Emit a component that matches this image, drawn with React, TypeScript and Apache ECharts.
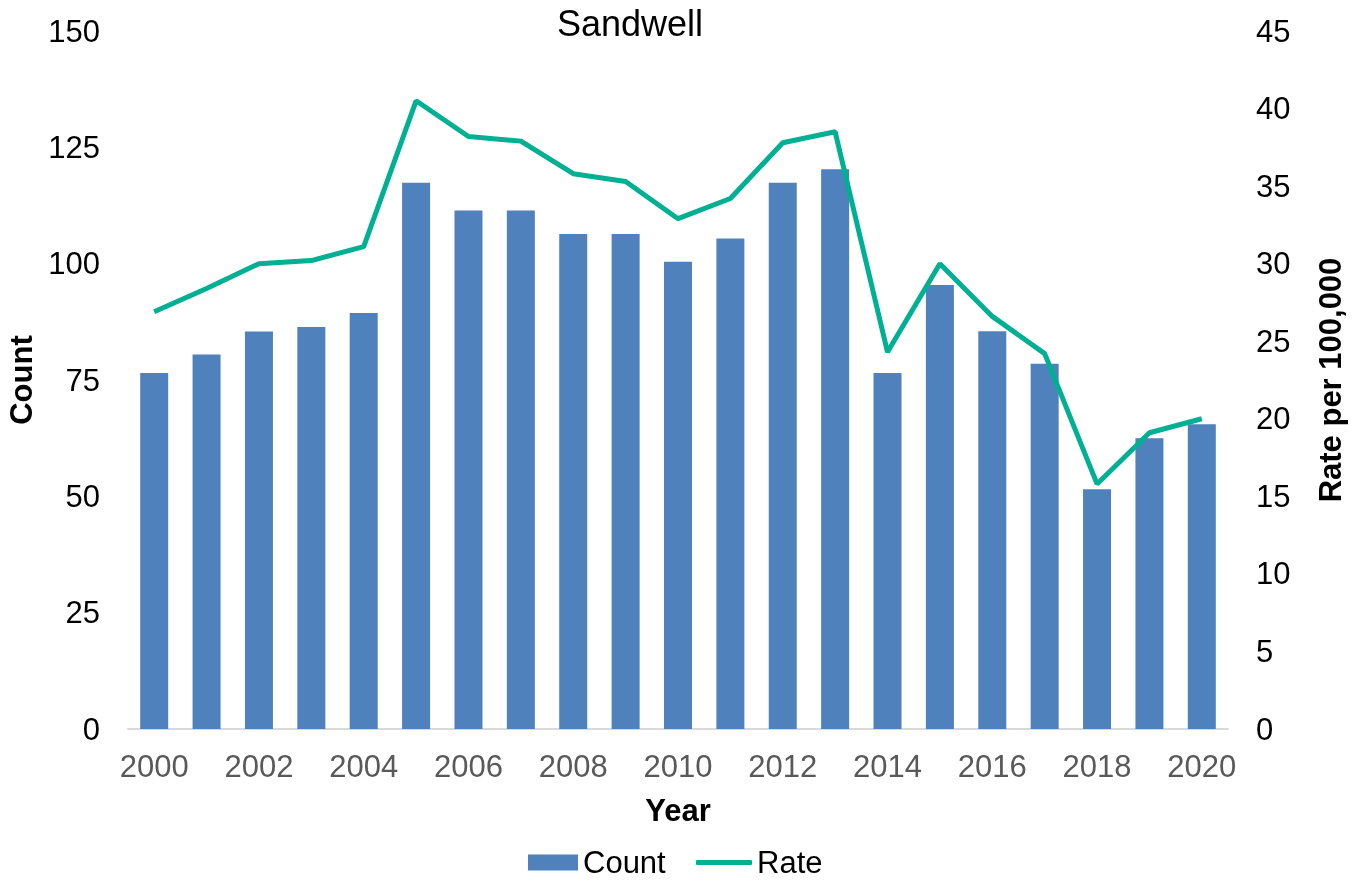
import React, { useEffect, useRef } from "react";
import * as echarts from "echarts";

const years = [
  "2000", "2001", "2002", "2003", "2004", "2005", "2006", "2007", "2008", "2009", "2010",
  "2011", "2012", "2013", "2014", "2015", "2016", "2017", "2018", "2019", "2020",
];
const counts = [
  76.5, 80.5, 85.4, 86.4, 89.4, 117.4, 111.4, 111.4, 106.4, 106.4, 100.4,
  105.4, 117.4, 120.3, 76.5, 95.4, 85.5, 78.5, 51.5, 62.5, 65.5,
];
const rates = [
  26.9, 28.4, 30.0, 30.2, 31.1, 40.5, 38.2, 37.9, 35.8, 35.3, 32.9,
  34.2, 37.8, 38.5, 24.3, 30.0, 26.6, 24.2, 15.8, 19.1, 20.0,
];

const FONT = "Liberation Sans, Arial, sans-serif";
const BAR_COLOR = "#4f81bd";
const LINE_COLOR = "#00b093";

export default function App() {
  const ref = useRef<HTMLDivElement>(null);

  useEffect(() => {
    if (!ref.current) return;
    const chart = echarts.init(ref.current, undefined, { renderer: "svg" });
    chart.setOption({
      animation: false,
      textStyle: { fontFamily: FONT },
      title: {
        text: "Sandwell",
        left: 630,
        top: 5,
        padding: 0,
        textAlign: "center",
        textStyle: { fontFamily: FONT, fontSize: 36, fontWeight: "normal", color: "#000" },
      },
      legend: [
        {
          left: 528,
          top: 847,
          padding: 0,
          itemWidth: 50,
          itemHeight: 16,
          textStyle: { fontFamily: FONT, fontSize: 31, color: "#000" },
          data: [{ name: "Count", icon: "rect" }],
        },
        {
          left: 696,
          top: 847,
          padding: 0,
          itemWidth: 56,
          itemHeight: 5,
          textStyle: { fontFamily: FONT, fontSize: 31, color: "#000" },
          data: [{ name: "Rate", icon: "roundRect" }],
        },
      ],
      grid: {
        left: 128,
        right: 137,
        top: 31,
        bottom: 152,
        containLabel: false,
        outerBoundsMode: "none",
      },
      xAxis: {
        type: "category",
        data: years,
        name: "Year",
        nameLocation: "middle",
        nameGap: 66,
        nameTextStyle: { fontFamily: FONT, fontSize: 31, fontWeight: "bold", color: "#000" },
        axisLine: { lineStyle: { color: "#d9d9d9", width: 2 } },
        axisTick: { show: false },
        axisLabel: {
          interval: 1,
          margin: 22,
          fontSize: 31,
          color: "#595959",
          fontFamily: FONT,
        },
      },
      yAxis: [
        {
          type: "value",
          min: 0,
          max: 150,
          interval: 25,
          name: "Count",
          nameLocation: "middle",
          nameGap: 91,
          nameTextStyle: { fontFamily: FONT, fontSize: 31, fontWeight: "bold", color: "#000" },
          axisLine: { show: false },
          axisTick: { show: false },
          splitLine: { show: false },
          axisLabel: { fontSize: 31, color: "#000", margin: 28, fontFamily: FONT },
        },
        {
          type: "value",
          min: 0,
          max: 45,
          interval: 5,
          name: "Rate per 100,000",
          nameLocation: "middle",
          nameGap: 87,
          nameRotate: 90,
          nameTextStyle: { fontFamily: FONT, fontSize: 31, fontWeight: "bold", color: "#000" },
          axisLine: { show: false },
          axisTick: { show: false },
          splitLine: { show: false },
          axisLabel: { fontSize: 31, color: "#000", margin: 28, fontFamily: FONT },
        },
      ],
      series: [
        {
          name: "Count",
          type: "bar",
          data: counts,
          barWidth: 28,
          itemStyle: { color: BAR_COLOR },
          yAxisIndex: 0,
        },
        {
          name: "Rate",
          type: "line",
          data: rates,
          yAxisIndex: 1,
          symbol: "none",
          lineStyle: { color: LINE_COLOR, width: 5 },
          itemStyle: { color: LINE_COLOR },
        },
      ],
    });
    return () => chart.dispose();
  }, []);

  return (
    <div
      ref={ref}
      style={{ position: "fixed", left: 0, top: 0, width: 1365, height: 881 }}
    />
  );
}
